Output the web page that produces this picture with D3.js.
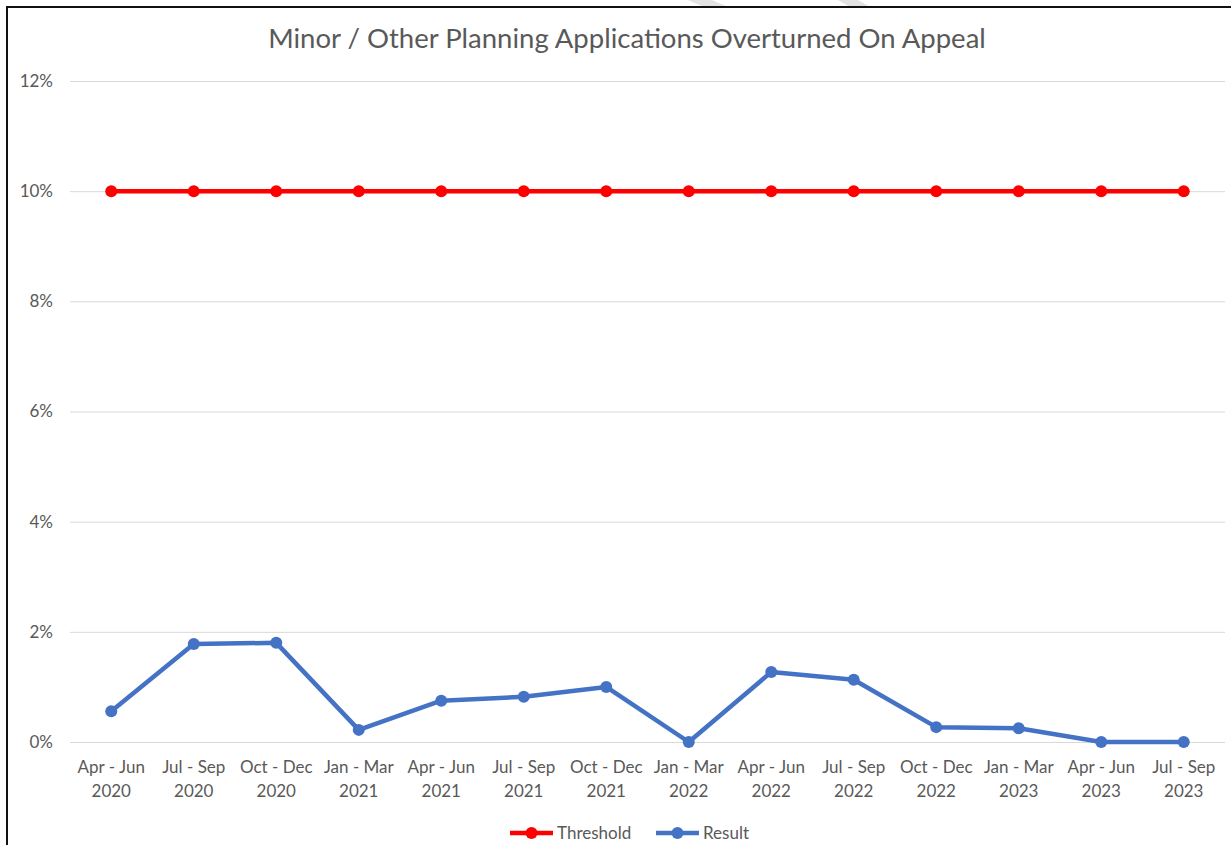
<!DOCTYPE html>
<html>
<head>
<meta charset="utf-8">
<script src="https://cdn.jsdelivr.net/npm/d3@7"></script>
<style>
  html, body { margin: 0; padding: 0; background: #fff; }
  svg { display: block; }
</style>
</head>
<body>
<svg id="chart"></svg>
<script>
// quarters on the x axis (two lines each)
var quarters = ["Apr - Jun", "Jul - Sep", "Oct - Dec", "Jan - Mar", "Apr - Jun", "Jul - Sep", "Oct - Dec",
                "Jan - Mar", "Apr - Jun", "Jul - Sep", "Oct - Dec", "Jan - Mar", "Apr - Jun", "Jul - Sep"];
var years = ["2020", "2020", "2020", "2021", "2021", "2021", "2021",
             "2022", "2022", "2022", "2022", "2023", "2023", "2023"];

// values in percent
var threshold = [10, 10, 10, 10, 10, 10, 10, 10, 10, 10, 10, 10, 10, 10];
var result = [0.56, 1.78, 1.80, 0.22, 0.75, 0.82, 1.00, 0.0, 1.27, 1.13, 0.27, 0.25, 0.0, 0.0];

var yTicks = [0, 2, 4, 6, 8, 10, 12];

var seriesNames = ["Threshold", "Result"];
var seriesColors = ["#ff0000", "#4472c4"];

function init(){
    var width = 1231, height = 845;
    var font = "Lato, 'Open Sans', sans-serif";

    var svg = d3.select("svg#chart")
      .attr("width", width)
      .attr("height", height);

    // faint watermark shapes at the top
    svg.append("path")
      .attr("d", "M688,0 L712,0 L728,7 L704,7 Z")
      .style("fill", "#e3e3e3");
    svg.append("path")
      .attr("d", "M838,0 L858,0 L870,7 L850,7 Z")
      .style("fill", "#e3e3e3");

    // frame (top + left edges visible)
    svg.append("line")
      .attr("x1", 7).attr("x2", width).attr("y1", 7).attr("y2", 7)
      .style("stroke", "#111").style("stroke-width", 2);
    svg.append("line")
      .attr("x1", 7).attr("x2", 7).attr("y1", 6).attr("y2", height)
      .style("stroke", "#111").style("stroke-width", 2);

    var x = d3.scaleBand()
      .domain(d3.range(quarters.length))
      .range([70, 1225]);

    var y = d3.scaleLinear()
      .domain([0, 12])
      .range([742, 81]);

    // title
    svg.append("text")
      .attr("x", 627)
      .attr("y", 48)
      .attr("text-anchor", "middle")
      .style("font-family", font)
      .style("font-size", "27.5px")
      .style("fill", "#595959")
      .text("Minor / Other Planning Applications Overturned On Appeal");

    // gridlines + y labels
    var yAxis = d3.axisLeft(y)
      .tickValues(yTicks)
      .tickSize(-(1225 - 70))
      .tickPadding(17)
      .tickFormat(function(d){ return d + "%"; });

    var gy = svg.append("g")
      .attr("transform", "translate(70,0)")
      .call(yAxis);
    gy.select(".domain").remove();
    gy.selectAll(".tick line")
      .style("stroke", "#d9d9d9")
      .style("stroke-width", 1);
    gy.selectAll(".tick text")
      .style("font-family", font)
      .style("font-size", "17px")
      .style("fill", "#595959");

    // x labels
    var gx = svg.append("g");
    gx.selectAll("text.q")
        .data(quarters)
      .enter().append("text")
        .attr("class", "q")
        .attr("x", function(d, i){ return x(i) + x.bandwidth() / 2; })
        .attr("y", 773)
        .attr("text-anchor", "middle")
        .style("font-family", font)
        .style("font-size", "17px")
        .style("fill", "#595959")
        .text(function(d){ return d; });
    gx.selectAll("text.yr")
        .data(years)
      .enter().append("text")
        .attr("class", "yr")
        .attr("x", function(d, i){ return x(i) + x.bandwidth() / 2; })
        .attr("y", 797)
        .attr("text-anchor", "middle")
        .style("font-family", font)
        .style("font-size", "17px")
        .style("fill", "#595959")
        .text(function(d){ return d; });

    var line = d3.line()
      .x(function(d, i){ return x(i) + x.bandwidth() / 2; })
      .y(function(d){ return y(d); });

    [threshold, result].forEach(function(vals, k){
        var g = svg.append("g");
        g.append("path")
          .datum(vals)
          .attr("d", line)
          .style("fill", "none")
          .style("stroke", seriesColors[k])
          .style("stroke-width", 4.5)
          .style("stroke-linejoin", "round")
          .style("stroke-linecap", "round");
        g.selectAll("circle")
            .data(vals)
          .enter().append("circle")
            .attr("cx", function(d, i){ return x(i) + x.bandwidth() / 2; })
            .attr("cy", function(d){ return y(d); })
            .attr("r", 6)
            .style("fill", seriesColors[k]);
    });

    // legend
    var legendX = [510, 656];
    var legend = svg.append("g");
    seriesNames.forEach(function(name, k){
        var lg = legend.append("g").attr("transform", "translate(" + legendX[k] + ",833)");
        lg.append("line")
          .attr("x1", 0).attr("x2", 43)
          .style("stroke", seriesColors[k])
          .style("stroke-width", 4.5);
        lg.append("circle")
          .attr("cx", 21.5).attr("r", 6)
          .style("fill", seriesColors[k]);
        lg.append("text")
          .attr("x", 47)
          .attr("y", 6)
          .style("font-family", font)
          .style("font-size", "17px")
          .style("fill", "#595959")
          .text(name);
    });
}

init();
</script>
</body>
</html>
